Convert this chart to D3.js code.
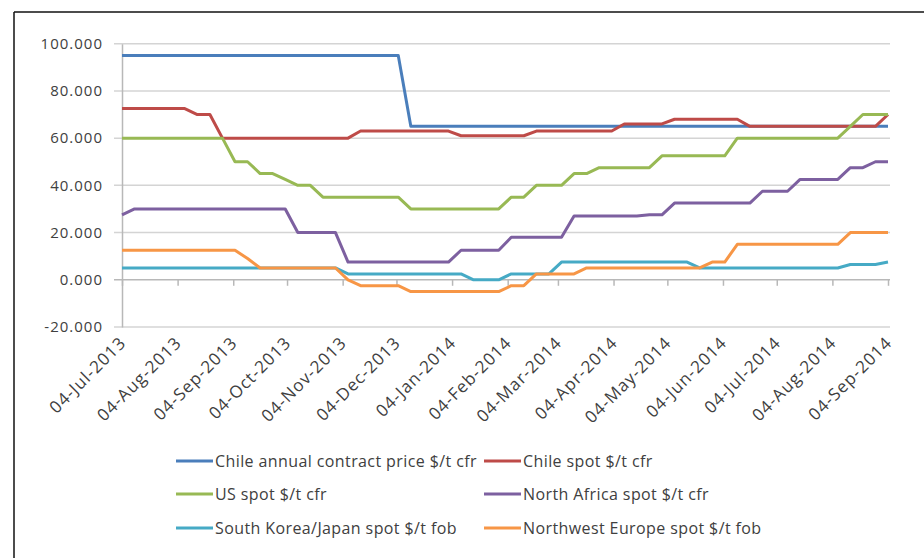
<!DOCTYPE html>
<html>
<head>
<meta charset="utf-8">
<script src="https://d3js.org/d3.v7.min.js"></script>
<style>
  body { margin: 0; background: #fff; }
  text { font-family: "Open Sans", sans-serif; fill: #404040; }
</style>
</head>
<body>
<svg width="924" height="558"></svg>
<script>
// weekly observations, 04-Jul-2013 .. 04-Sep-2014
const dates = d3.timeDay.range(new Date(2013, 6, 4), new Date(2014, 8, 5), 7);

const tickLabels = ["04-Jul-2013", "04-Aug-2013", "04-Sep-2013", "04-Oct-2013", "04-Nov-2013",
  "04-Dec-2013", "04-Jan-2014", "04-Feb-2014", "04-Mar-2014", "04-Apr-2014", "04-May-2014",
  "04-Jun-2014", "04-Jul-2014", "04-Aug-2014", "04-Sep-2014"];
const yTicks = [-20, 0, 20, 40, 60, 80, 100];

const seriesNames = ["Chile annual contract price $/t cfr", "Chile spot $/t cfr", "US spot $/t cfr",
  "North Africa spot $/t cfr", "South Korea/Japan spot $/t fob", "Northwest Europe spot $/t fob"];
const seriesColors = ["#4a7ebb", "#be4b48", "#98b954", "#7d60a0", "#46aac5", "#f79646"];

const chileContract = [95,95,95,95,95,95,95,95,95,95, 95,95,95,95,95,95,95,95,95,95,
  95,95,95,65,65,65,65,65,65,65, 65,65,65,65,65,65,65,65,65,65, 65,65,65,65,65,65,65,65,65,65,
  65,65,65,65,65,65,65,65,65,65, 65,65];
const chileSpot = [72.5,72.5,72.5,72.5,72.5,72.5,70,70,60,60, 60,60,60,60,60,60,60,60,60,63,
  63,63,63,63,63,63,63,61,61,61, 61,61,61,63,63,63,63,63,63,63, 66,66,66,66,68,68,68,68,68,68,
  65,65,65,65,65,65,65,65,65,65, 65,70];
const usSpot = [60,60,60,60,60,60,60,60,60,50, 50,45,45,42.5,40,40,35,35,35,35,
  35,35,35,30,30,30,30,30,30,30, 30,35,35,40,40,40,45,45,47.5,47.5, 47.5,47.5,47.5,52.5,52.5,52.5,52.5,52.5,52.5,60,
  60,60,60,60,60,60,60,60,65,70, 70,70];
const northAfrica = [27.5,30,30,30,30,30,30,30,30,30, 30,30,30,30,20,20,20,20,7.5,7.5,
  7.5,7.5,7.5,7.5,7.5,7.5,7.5,12.5,12.5,12.5, 12.5,18,18,18,18,18,27,27,27,27, 27,27,27.5,27.5,32.5,32.5,32.5,32.5,32.5,32.5,
  32.5,37.5,37.5,37.5,42.5,42.5,42.5,42.5,47.5,47.5, 50,50];
const koreaJapan = [5,5,5,5,5,5,5,5,5,5, 5,5,5,5,5,5,5,5,2.5,2.5,
  2.5,2.5,2.5,2.5,2.5,2.5,2.5,2.5,0,0, 0,2.5,2.5,2.5,2.5,7.5,7.5,7.5,7.5,7.5, 7.5,7.5,7.5,7.5,7.5,7.5,5,5,5,5,
  5,5,5,5,5,5,5,5,6.5,6.5, 6.5,7.5];
const nwEurope = [12.5,12.5,12.5,12.5,12.5,12.5,12.5,12.5,12.5,12.5, 9,5,5,5,5,5,5,5,0,-2.5,
  -2.5,-2.5,-2.5,-5,-5,-5,-5,-5,-5,-5, -5,-2.5,-2.5,2.5,2.5,2.5,2.5,5,5,5, 5,5,5,5,5,5,5,7.5,7.5,15,
  15,15,15,15,15,15,15,15,20,20, 20,20];

const allSeries = [chileContract, chileSpot, usSpot, northAfrica, koreaJapan, nwEurope];

const svg = d3.select("svg");
const parse = d3.timeParse("%d-%b-%Y");
const fmt = d3.formatLocale({decimal: ".", thousands: ",", grouping: [3], currency: ["$", ""], minus: "-"}).format(".3f");

const x = d3.scaleTime().domain([parse(tickLabels[0]), parse(tickLabels[tickLabels.length - 1])]).range([122, 888]);
const y = d3.scaleLinear().domain([-20, 100]).range([327, 43.7]);

// frame
svg.append("line").attr("x1", 14).attr("x2", 924).attr("y1", 12).attr("y2", 12).attr("stroke", "#111").attr("stroke-width", 1.5);
svg.append("line").attr("x1", 14).attr("x2", 14).attr("y1", 12).attr("y2", 558).attr("stroke", "#111").attr("stroke-width", 1.5);

// gridlines
svg.append("g").selectAll("line").data(yTicks).join("line")
  .attr("x1", 114).attr("x2", 890)
  .attr("y1", d => y(d)).attr("y2", d => y(d))
  .attr("stroke", d => d === 0 ? "#b8b8b8" : "#d4d4d4").attr("stroke-width", 1.5);

// y axis
const yAxis = svg.append("g").attr("transform", "translate(122,0)")
  .call(d3.axisLeft(y).tickValues(yTicks).tickSize(0).tickPadding(19).tickFormat(fmt));
yAxis.select(".domain").attr("stroke", "#b8b8b8").attr("stroke-width", 1.5);
yAxis.selectAll("text").style("font-size", "15px").style("letter-spacing", "1px").attr("fill", "#404040");

// x axis ticks at y = 0
const xAxis = svg.append("g").attr("transform", `translate(0,${y(0)})`)
  .call(d3.axisBottom(x).tickValues(tickLabels.map(parse)).tickSize(6).tickFormat(""));
xAxis.select(".domain").remove();
xAxis.selectAll(".tick line").attr("stroke", "#b8b8b8").attr("stroke-width", 1.5);

// x labels rotated, below the plot
svg.append("g").selectAll("text").data(tickLabels).join("text")
  .attr("transform", d => `translate(${x(parse(d)) + 5},${344}) rotate(-45)`)
  .attr("text-anchor", "end")
  .style("font-size", "17px")
  .style("letter-spacing", "1px")
  .text(d => d);

// series
const line = d3.line().x((d, i) => x(dates[i])).y(d => y(d));
svg.append("g").selectAll("path").data(allSeries).join("path")
  .attr("d", d => line(d))
  .attr("fill", "none")
  .attr("stroke", (d, i) => seriesColors[i])
  .attr("stroke-width", 3)
  .attr("stroke-linejoin", "round");

// legend
const legendPos = [[176, 461], [484, 461], [176, 494], [484, 494], [176, 528], [484, 528]];
const legend = svg.append("g").selectAll("g").data(seriesNames).join("g")
  .attr("transform", (d, i) => `translate(${legendPos[i][0]},${legendPos[i][1]})`);
legend.append("line").attr("x1", 0).attr("x2", 37)
  .attr("stroke", (d, i) => seriesColors[i]).attr("stroke-width", 3);
legend.append("text").attr("x", 39).attr("dy", "0.35em")
  .style("font-size", "16px").style("letter-spacing", "0.4px").text(d => d);
</script>
</body>
</html>
